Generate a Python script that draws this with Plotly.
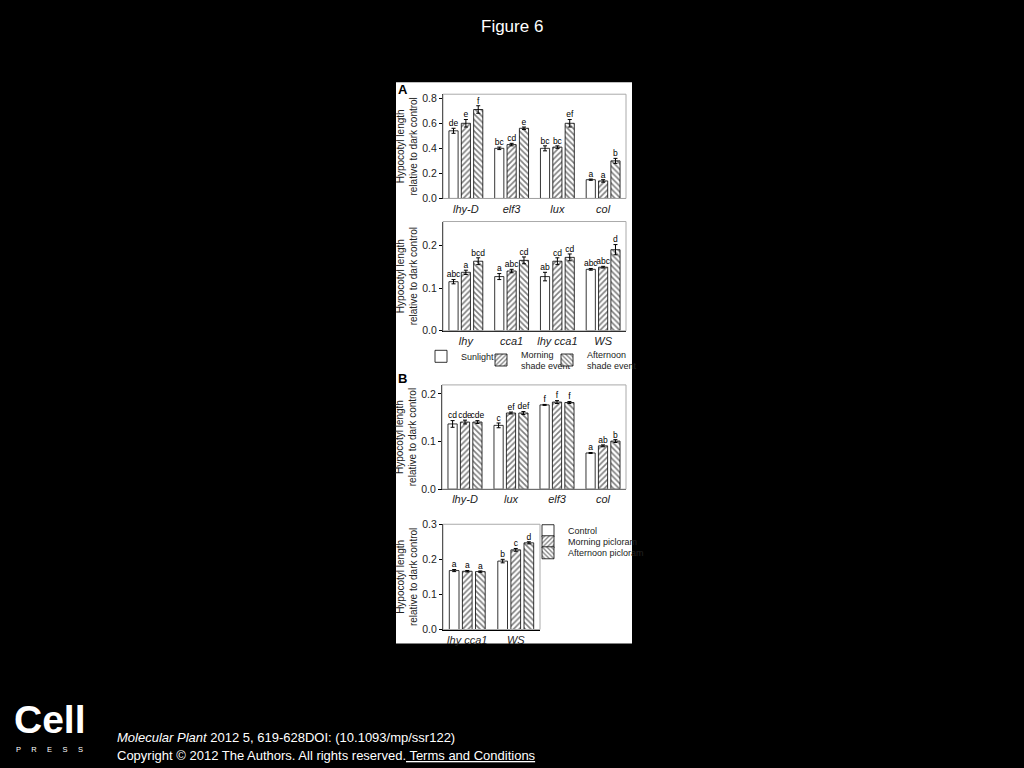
import plotly.graph_objects as go

W, H = 1024, 768

# --- data ---
series_a = ["Sunlight", "Morning<br>shade event", "Afternoon<br>shade event"]
series_b = ["Control", "Morning picloram", "Afternoon picloram"]

a1_genotypes = ["lhy-D", "elf3", "lux", "col"]
a1_values = [[0.54, 0.40, 0.40, 0.15],
             [0.60, 0.43, 0.41, 0.14],
             [0.71, 0.56, 0.60, 0.30]]
a1_errors = [[0.02, 0.01, 0.02, 0.005],
             [0.03, 0.01, 0.01, 0.01],
             [0.03, 0.01, 0.03, 0.02]]
a1_letters = [["de", "bc", "bc", "a"],
              ["e", "cd", "bc", "a"],
              ["f", "e", "ef", "b"]]

a2_genotypes = ["lhy", "cca1", "lhy cca1", "WS"]
a2_values = [[0.115, 0.127, 0.127, 0.144],
             [0.137, 0.140, 0.163, 0.149],
             [0.163, 0.165, 0.172, 0.190]]
a2_errors = [[0.005, 0.007, 0.010, 0.002],
             [0.005, 0.004, 0.008, 0.002],
             [0.008, 0.008, 0.008, 0.012]]
a2_letters = [["abc", "a", "ab", "abc"],
              ["a", "abc", "cd", "abc"],
              ["bcd", "cd", "cd", "d"]]

b1_genotypes = ["lhy-D", "lux", "elf3", "col"]
b1_values = [[0.137, 0.134, 0.177, 0.076],
             [0.141, 0.160, 0.183, 0.091],
             [0.141, 0.160, 0.182, 0.101]]
b1_errors = [[0.007, 0.005, 0.001, 0.001],
             [0.004, 0.002, 0.003, 0.002],
             [0.003, 0.003, 0.002, 0.003]]
b1_letters = [["cd", "c", "f", "a"],
              ["cde", "ef", "f", "ab"],
              ["cde", "def", "f", "b"]]

b2_genotypes = ["lhy cca1", "WS"]
b2_values = [[0.168, 0.195],
             [0.166, 0.227],
             [0.165, 0.247]]
b2_errors = [[0.003, 0.005],
             [0.002, 0.004],
             [0.002, 0.003]]
b2_letters = [["a", "b"],
              ["a", "c"],
              ["a", "d"]]


def fx(px):
    return px / W


def fy(py):
    # the page comes out slightly squeezed vertically, so undo that here
    return 1 - (py - 7) / 0.982 / H


FONT = "Liberation Sans, Arial, sans-serif"
TXT = "#222222"
patterns = ["", "/", "\\"]
offsets = [-0.27, 0, 0.27]

# panel boxes in pixels: left, right, top, bottom
panels = [
    dict(g=a1_genotypes, v=a1_values, e=a1_errors, t=a1_letters, names=series_a,
         box=(443, 626, 95, 199), ymax=0.832, dtick=0.2, legends=None),
    dict(g=a2_genotypes, v=a2_values, e=a2_errors, t=a2_letters, names=series_a,
         box=(443, 626, 222, 331), ymax=0.256, dtick=0.1,
         legends=["legend", "legend2", "legend3"]),
    dict(g=b1_genotypes, v=b1_values, e=b1_errors, t=b1_letters, names=series_b,
         box=(442, 626, 385, 489), ymax=0.219, dtick=0.1, legends=None),
    dict(g=b2_genotypes, v=b2_values, e=b2_errors, t=b2_letters, names=series_b,
         box=(443, 540, 524, 629), ymax=0.3, dtick=0.1,
         legends=["legend4", "legend5", "legend6"]),
]

fig = go.Figure()
layout = {}
shapes = [dict(type="rect", xref="paper", yref="paper", x0=fx(396), x1=fx(632),
               y0=fy(643), y1=fy(83), fillcolor="white", line_width=0, layer="below")]

for k, p in enumerate(panels, start=1):
    xa = "x" if k == 1 else f"x{k}"
    ya = "y" if k == 1 else f"y{k}"
    n = len(p["g"])
    for i in range(3):
        xs = [j + offsets[i] for j in range(n)]
        fig.add_trace(go.Bar(
            x=xs, y=p["v"][i], width=0.2, name=p["names"][i],
            xaxis=xa, yaxis=ya,
            showlegend=p["legends"] is not None,
            legend=p["legends"][i] if p["legends"] else "legend",
            marker=dict(color="white", line=dict(color="black", width=0.8),
                        pattern=dict(shape=patterns[i], fgcolor="black", bgcolor="white",
                                     size=4, solidity=0.4)),
            error_y=dict(type="data", array=p["e"][i], color="black", thickness=1, width=2),
        ))
        fig.add_trace(go.Scatter(
            x=xs, y=[a + b for a, b in zip(p["v"][i], p["e"][i])],
            mode="text", text=p["t"][i], textposition="top center",
            textfont=dict(size=8.5, color="black", family=FONT),
            xaxis=xa, yaxis=ya, showlegend=False, hoverinfo="skip", cliponaxis=False,
        ))
    l, r, t, b = p["box"]
    layout["xaxis" if k == 1 else f"xaxis{k}"] = dict(
        domain=[fx(l), fx(r)], range=[-0.5, n - 0.5], anchor=ya,
        tickvals=list(range(n)), ticktext=[f"<i>{g}</i>" for g in p["g"]],
        showline=True, linecolor="black", linewidth=1, ticks="",
        tickfont=dict(size=11, color=TXT, family=FONT), showgrid=False, zeroline=False,
    )
    layout["yaxis" if k == 1 else f"yaxis{k}"] = dict(
        domain=[fy(b), fy(t)], range=[0, p["ymax"]], anchor=xa,
        dtick=p["dtick"], tickformat=".1f", ticks="outside", ticklen=3,
        tickcolor="black", showline=True, linecolor="black", linewidth=1,
        tickfont=dict(size=10.5, color=TXT, family=FONT), showgrid=False, zeroline=False,
        title=dict(text="Hypocotyl length<br>relative to dark control",
                   font=dict(size=10, color=TXT, family=FONT), standoff=2),
    )
    shapes.append(dict(type="rect", xref=f"{xa} domain", yref=f"{ya} domain",
                       x0=0, x1=1, y0=0, y1=1, line=dict(color="#aaaaaa", width=1)))


def note(text, x, y, size, color="white", xanchor="left", family=FONT):
    return dict(text=text, x=fx(x), y=fy(y), xref="paper", yref="paper", showarrow=False,
                xanchor=xanchor, yanchor="middle", font=dict(size=size, color=color, family=family))


annotations = [
    note("Figure 6", 512, 27, 17, xanchor="center"),
    note("<b>A</b>", 396, 90, 13, color="black"),
    note("<b>B</b>", 396, 379, 13, color="black"),
    note("<i>Molecular Plant</i> 2012 5, 619-628DOI: (10.1093/mp/ssr122)", 115, 737, 13),
    note("Copyright © 2012 The Authors. All rights reserved."
         "<span style='text-decoration:underline'> Terms and Conditions</span>", 115, 755, 13),
    note("<b>Cell</b>", 12, 719, 39),
    note("P     R     E     S     S", 14, 749, 7.5),
]

# one small legend per entry so each sits where the original has it
leg_pos = {"legend": (421, 342), "legend2": (481, 342), "legend3": (547, 342),
           "legend4": (528, 516), "legend5": (528, 527), "legend6": (528, 538)}
legends = {
    name: dict(x=fx(x), y=fy(y), xanchor="left", yanchor="top", bgcolor="rgba(0,0,0,0)",
               font=dict(size=9, color=TXT, family=FONT), itemwidth=30)
    for name, (x, y) in leg_pos.items()
}

fig.update_layout(
    width=W, height=H, margin=dict(l=0, r=0, t=0, b=0),
    paper_bgcolor="black", plot_bgcolor="white", barmode="overlay",
    shapes=shapes, annotations=annotations,
    **legends, **layout,
)

fig.write_html("out.html", config={"displayModeBar": False},
               post_script="document.body.style.margin='0px';")
